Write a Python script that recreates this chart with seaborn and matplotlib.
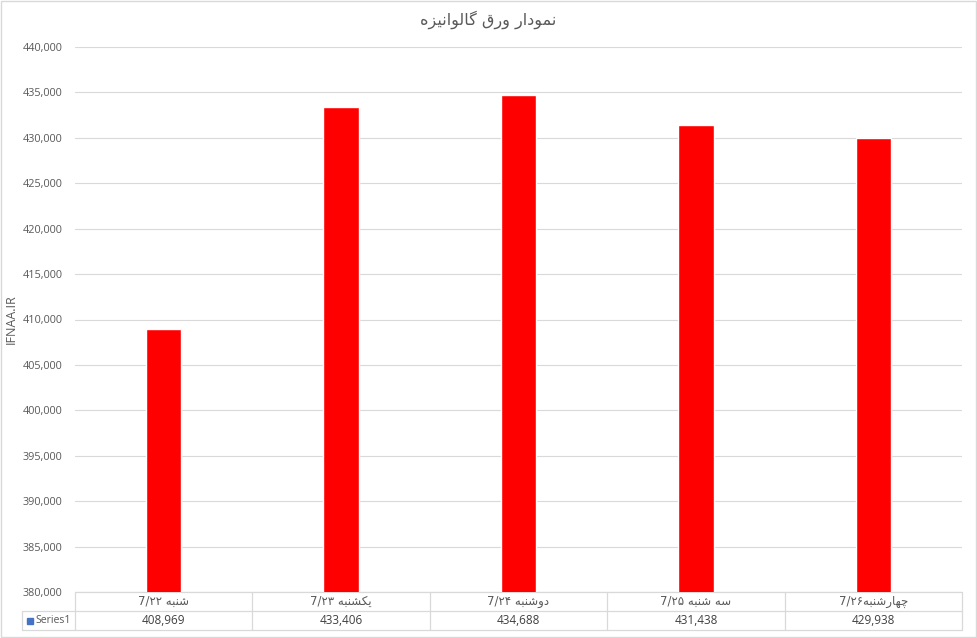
import re
import matplotlib
matplotlib.use("Agg")
import matplotlib.pyplot as plt
import matplotlib.ticker as mticker
from matplotlib.patches import Rectangle
import pandas as pd
import seaborn as sns

# data
title = "نمودار ورق گالوانیزه"
days = ["شنبه 7/۲۲", "یکشنبه 7/۲۳", "دوشنبه 7/۲۴", "سه شنبه 7/۲۵", "چهارشنبه7/۲۶"]
prices = [408969, 433406, 434688, 431438, 429938]
series_name = "Series1"
y_label = "IFNAA.IR"
y_ticks = list(range(380000, 440001, 5000))

# arabic letter forms: isolated, final, initial, medial (no initial -> joins right only)
FORMS = {
    'ا': ('\uFE8D', '\uFE8E', None, None),
    'ب': ('\uFE8F', '\uFE90', '\uFE91', '\uFE92'),
    'د': ('\uFEA9', '\uFEAA', None, None),
    'ر': ('\uFEAD', '\uFEAE', None, None),
    'ز': ('\uFEAF', '\uFEB0', None, None),
    'س': ('\uFEB1', '\uFEB2', '\uFEB3', '\uFEB4'),
    'ش': ('\uFEB5', '\uFEB6', '\uFEB7', '\uFEB8'),
    'ق': ('\uFED5', '\uFED6', '\uFED7', '\uFED8'),
    'ل': ('\uFEDD', '\uFEDE', '\uFEDF', '\uFEE0'),
    'م': ('\uFEE1', '\uFEE2', '\uFEE3', '\uFEE4'),
    'ن': ('\uFEE5', '\uFEE6', '\uFEE7', '\uFEE8'),
    'ه': ('\uFEE9', '\uFEEA', '\uFEEB', '\uFEEC'),
    'و': ('\uFEED', '\uFEEE', None, None),
    'ی': ('\uFBFC', '\uFBFD', '\uFBFE', '\uFBFF'),
    'ک': ('\uFB8E', '\uFB8F', '\uFB90', '\uFB91'),
    'گ': ('\uFB92', '\uFB93', '\uFB94', '\uFB95'),
    'چ': ('\uFB7A', '\uFB7B', '\uFB7C', '\uFB7D'),
}


def shape(s):
    out = []
    for i, ch in enumerate(s):
        if ch not in FORMS:
            out.append(ch)
            continue
        prev = s[i - 1] if i > 0 else ''
        nxt = s[i + 1] if i + 1 < len(s) else ''
        jp = prev in FORMS and FORMS[prev][2] is not None
        jn = nxt in FORMS and FORMS[ch][2] is not None
        iso, fin, ini, med = FORMS[ch]
        if jp and jn:
            out.append(med)
        elif jp:
            out.append(fin)
        elif jn:
            out.append(ini)
        else:
            out.append(iso)
    return ''.join(out)


def rtl(s):
    toks = re.findall(r'[0-9۰-۹/]+|[^0-9۰-۹/]+', shape(s))
    return ''.join(t if re.match(r'[0-9۰-۹/]', t) else t[::-1] for t in reversed(toks))


sns.set_style("white")
plt.rcParams['font.family'] = ['Open Sans', 'DejaVu Sans']

GRID = "#D9D9D9"
TXT = "#595959"

df = pd.DataFrame({"day": days, "price": prices})
n = len(days)

fig = plt.figure(figsize=(9.77, 6.38), dpi=100)
W, H = 977, 638
ax = fig.add_axes([75 / W, (H - 592) / H, 887 / W, 545 / H])

sns.barplot(data=df, x="day", y="price", color="#FF0000", width=0.2,
            saturation=1, ax=ax, zorder=3)

ax.set_xlim(-0.5, n - 0.5)
ax.set_ylim(380000, 440000)
ax.set_yticks(y_ticks)
ax.yaxis.set_major_formatter(mticker.StrMethodFormatter("{x:,.0f}"))
ax.tick_params(axis='y', length=0, pad=9, labelsize=7.8, labelcolor=TXT)
ax.tick_params(axis='x', length=0, labelbottom=False)
ax.set_xlabel("")
ax.set_ylabel(y_label, fontsize=9, color=TXT)
ax.yaxis.set_label_coords(-57 / 887, 0.5)
ax.grid(axis='y', color=GRID, linewidth=0.8, zorder=0)
for sp in ax.spines.values():
    sp.set_visible(False)

# data table under the plot
r = 19 / 545
left = -53 / 887
xt = ax.get_xaxis_transform()
lk = dict(color=GRID, linewidth=0.9, clip_on=False)
ax.plot([-0.5, n - 0.5], [0, 0], transform=xt, **lk)
ax.plot([left, 1], [-r, -r], transform=ax.transAxes, **lk)
ax.plot([left, 1], [-2 * r, -2 * r], transform=ax.transAxes, **lk)
ax.plot([left, left], [-r, -2 * r], transform=ax.transAxes, **lk)
for i in range(n + 1):
    ax.plot([i - 0.5, i - 0.5], [0, -2 * r], transform=xt, **lk)

for i, (d, p) in enumerate(zip(days, prices)):
    ax.text(i, -0.5 * r, rtl(d), transform=xt, ha='center', va='center',
            fontsize=8.5, color=TXT, family='DejaVu Sans')
    ax.text(i, -1.5 * r, f"{p:,}", transform=xt, ha='center', va='center',
            fontsize=8.5, color="#404040")

ax.add_patch(Rectangle((-48 / 887, -1.5 * r - 3 / 545), 6 / 887, 6 / 545,
                       transform=ax.transAxes, color="#4472C4", clip_on=False))
ax.text(-40 / 887, -1.5 * r, series_name, transform=ax.transAxes,
        ha='left', va='center', fontsize=7.6, color=TXT)

fig.text(0.5, 1 - 20 / H, rtl(title), ha='center', va='center',
         fontsize=11.5, color=TXT, family='DejaVu Sans')

fig.add_artist(Rectangle((1 / W, 1 / H), (W - 2) / W, (H - 2) / H,
                         transform=fig.transFigure, fill=False,
                         edgecolor=GRID, linewidth=1))

fig.savefig("out.png", dpi=100)
